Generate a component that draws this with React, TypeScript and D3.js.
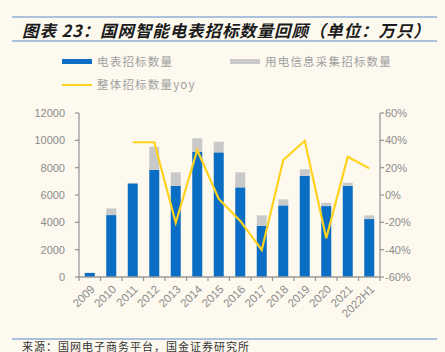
import React, { useEffect, useRef } from 'react';
import * as d3 from 'd3';

const years = ['2009', '2010', '2011', '2012', '2013', '2014', '2015', '2016', '2017', '2018', '2019', '2020', '2021', '2022H1'];
const meterBids = [300, 4530, 6850, 7830, 6660, 9170, 9120, 6560, 3750, 5240, 7410, 5190, 6660, 4240];
const collectBids = [0, 490, 40, 1700, 1000, 980, 780, 1100, 760, 440, 470, 240, 240, 270];
const yoy: (number | null)[] = [null, null, 38.6, 38.6, -20.3, 32.9, -2.9, -19, -40.2, 25.6, 39.7, -31.7, 28, 19.5];
const leftTicks = [0, 2000, 4000, 6000, 8000, 10000, 12000];
const rightTicks = [-60, -40, -20, 0, 20, 40, 60];

const App: React.FC = () => {
    const ref = useRef<SVGSVGElement>(null);

    useEffect(() => {
        const svg = d3.select(ref.current);
        svg.selectAll('*').remove();

        const W = 445, H = 352;
        const left = 79, right = 380, top = 113, bottom = 277;
        const font = 'Arial, "Liberation Sans", "Noto Sans CJK SC", sans-serif';
        const cjk = '"Noto Sans CJK SC", sans-serif';
        const grey = '#8c8c8c';
        const axisCol = '#9a9a9a';

        svg.append('rect').attr('width', W).attr('height', H).attr('fill', '#fdf9ef');

        // title block
        svg.append('line').attr('x1', 12).attr('x2', 437).attr('y1', 17).attr('y2', 17)
            .attr('stroke', '#5b8bc9').attr('stroke-width', 1);
        svg.append('line').attr('x1', 12).attr('x2', 437).attr('y1', 41).attr('y2', 41)
            .attr('stroke', '#5b8bc9').attr('stroke-width', 1);
        svg.append('text').attr('x', 22).attr('y', 37)
            .attr('font-family', cjk)
            .attr('font-size', 16.5).attr('font-weight', 'bold').attr('font-style', 'italic')
            .attr('letter-spacing', 0.9)
            .attr('fill', '#1a1a1a')
            .text('图表 23：国网智能电表招标数量回顾（单位：万只）');

        // legend
        const lg = svg.append('g').attr('font-family', cjk)
            .attr('font-size', 11.5).attr('letter-spacing', 1.2).attr('fill', '#a0a0a0');
        lg.append('rect').attr('x', 62).attr('y', 59).attr('width', 30).attr('height', 5).attr('fill', '#0a6ec4');
        lg.append('text').attr('x', 97).attr('y', 65.5).text('电表招标数量');
        lg.append('rect').attr('x', 230).attr('y', 59).attr('width', 30).attr('height', 5).attr('fill', '#c9c9c9');
        lg.append('text').attr('x', 265).attr('y', 65.5).text('用电信息采集招标数量');
        lg.append('line').attr('x1', 62).attr('x2', 92).attr('y1', 85).attr('y2', 85)
            .attr('stroke', '#ffd21e').attr('stroke-width', 2);
        lg.append('text').attr('x', 97).attr('y', 89).text('整体招标数量yoy');

        const xb = d3.scaleBand<string>().domain(years).range([left, right]);
        const yL = d3.scaleLinear().domain([0, 12000]).range([bottom, top]);
        const yR = d3.scaleLinear().domain([-60, 60]).range([bottom, top]);

        // bars
        const bars = svg.append('g');
        years.forEach((yr, i) => {
            const bx = xb(yr)! + xb.bandwidth() / 2 - 5;
            bars.append('rect').attr('x', bx).attr('width', 10)
                .attr('y', yL(meterBids[i])).attr('height', yL(0) - yL(meterBids[i]))
                .attr('fill', '#0a6ec4');
            if (collectBids[i] > 0) {
                bars.append('rect').attr('x', bx).attr('width', 10)
                    .attr('y', yL(meterBids[i] + collectBids[i]))
                    .attr('height', yL(meterBids[i]) - yL(meterBids[i] + collectBids[i]))
                    .attr('fill', '#c9c9c9');
            }
        });

        // axes
        const ax = svg.append('g').attr('stroke', axisCol).attr('stroke-width', 1.3);
        ax.append('line').attr('x1', left).attr('x2', left).attr('y1', top).attr('y2', bottom);
        ax.append('line').attr('x1', right).attr('x2', right).attr('y1', top).attr('y2', bottom);
        ax.append('line').attr('x1', left).attr('x2', right).attr('y1', bottom).attr('y2', bottom);
        leftTicks.forEach(t => {
            ax.append('line').attr('x1', left - 4).attr('x2', left).attr('y1', yL(t)).attr('y2', yL(t));
        });
        rightTicks.forEach(t => {
            ax.append('line').attr('x1', right).attr('x2', right + 4).attr('y1', yR(t)).attr('y2', yR(t));
        });
        years.forEach(yr => {
            const tx = xb(yr)!;
            ax.append('line').attr('x1', tx).attr('x2', tx).attr('y1', bottom).attr('y2', bottom + 4);
        });
        ax.append('line').attr('x1', right).attr('x2', right).attr('y1', bottom).attr('y2', bottom + 4);

        const lbl = svg.append('g').attr('font-family', font).attr('font-size', 11).attr('fill', grey);
        leftTicks.forEach(t => {
            lbl.append('text').attr('x', left - 14).attr('y', yL(t) + 4)
                .attr('text-anchor', 'end').text(String(t));
        });
        rightTicks.forEach(t => {
            lbl.append('text').attr('x', right + 5).attr('y', yR(t) + 4)
                .text(`${t}%`);
        });
        years.forEach(yr => {
            const cx = xb(yr)! + xb.bandwidth() / 2 + 3;
            lbl.append('text').attr('transform', `translate(${cx},${bottom + 10}) rotate(-45)`)
                .attr('text-anchor', 'end').attr('dy', '0.35em').attr('font-size', 11.5).text(yr);
        });

        // yoy line
        const pts = years.map((yr, i) => ({ yr, v: yoy[i] })).filter(d => d.v !== null) as { yr: string; v: number }[];
        const line = d3.line<{ yr: string; v: number }>()
            .x(d => xb(d.yr)! + xb.bandwidth() / 2)
            .y(d => yR(d.v));
        svg.append('path').datum(pts).attr('d', line).attr('fill', 'none')
            .attr('stroke', '#ffd21e').attr('stroke-width', 2.2).attr('stroke-linejoin', 'miter');

        // source
        svg.append('line').attr('x1', 12).attr('x2', 437).attr('y1', 339).attr('y2', 339)
            .attr('stroke', '#5b8bc9').attr('stroke-width', 1);
        svg.append('text').attr('x', 22).attr('y', 350.5)
            .attr('font-family', cjk).attr('font-size', 11).attr('letter-spacing', 1)
            .attr('fill', '#333')
            .text('来源：国网电子商务平台，国金证券研究所');
    }, []);

    return (
        <svg ref={ref} width={445} height={352}
            style={{ position: 'absolute', left: 0, top: 0, display: 'block' }} />
    );
};

export default App;
